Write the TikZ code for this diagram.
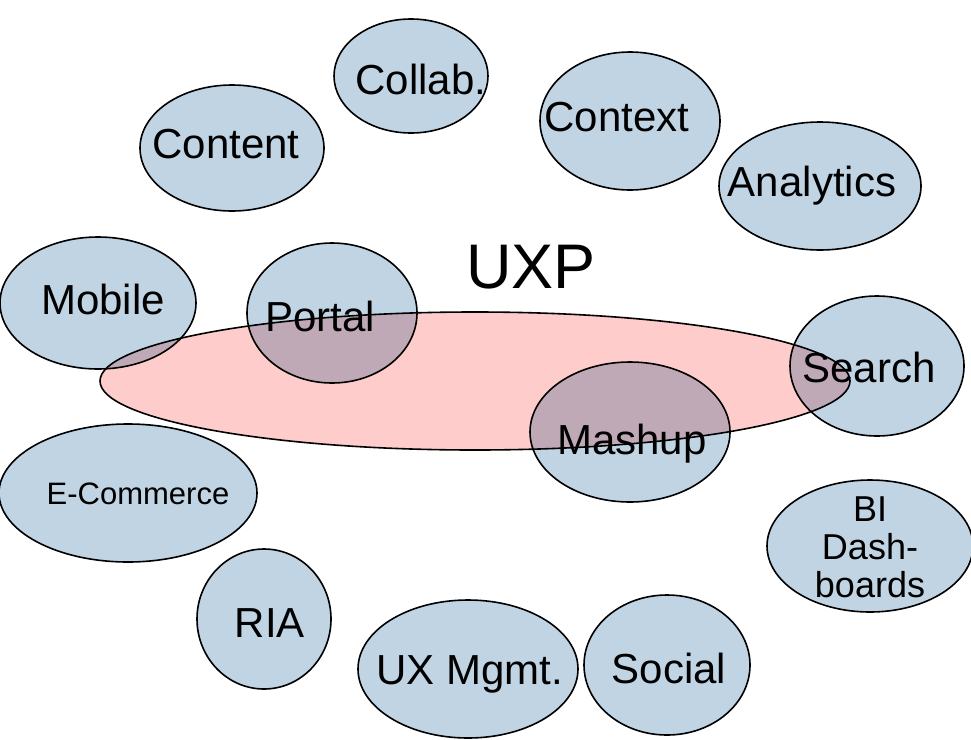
\documentclass[tikz,border=0pt]{standalone}
\usepackage{fontspec}
\setmainfont{Liberation Sans}
\definecolor{bubbleblue}{RGB}{192,212,228}
\definecolor{uxppink}{RGB}{255,204,204}
\begin{document}
\begin{tikzpicture}[x=1pt, y=-1pt,
  bubble/.style={draw, line width=1.6pt, fill=bubbleblue},
  every node/.style={inner sep=0pt, align=center,
    font=\fontsize{42}{40}\selectfont}]
  \useasboundingbox (0,0) rectangle (971,739);
  % bubbles round the platform
  \draw[bubble] (411,76) ellipse (77 and 57);
  \draw[bubble] (232,148) ellipse (92 and 63);
  \draw[bubble] (630,121) ellipse (90 and 69);
  \draw[bubble] (820,186) ellipse (101 and 64);
  \draw[bubble] (98,303) ellipse (98 and 66);
  \draw[bubble] (332,313) ellipse (85 and 70);
  \draw[bubble] (877,366) ellipse (87 and 70);
  \draw[bubble] (630,432) ellipse (100 and 70);
  \draw[bubble] (128,493) ellipse (129 and 69);
  \draw[bubble] (870,546) ellipse (103 and 66);
  \draw[bubble] (264,619) ellipse (67 and 70);
  \draw[bubble] (468,669) ellipse (110 and 69);
  \draw[bubble] (667,665) ellipse (83 and 70);
  % the platform itself
  \begin{scope}[blend mode=multiply]
    \draw[line width=1.6pt, fill=uxppink] (475,381) ellipse (375 and 69);
  \end{scope}
  \node (collab) at (421,79) {Collab.};
  \node (content) at (226,144) {Content};
  \node (context) at (617,117) {Context};
  \node (analytics) at (812,186) {Analytics};
  \node (mobile) at (103,299) {Mobile};
  \node (portal) at (320,316) {Portal};
  \node[font=\fontsize{63}{63}\selectfont] (uxp) at (531,267) {UXP};
  \node (search) at (869,367) {Search};
  \node (mashup) at (632,444) {Mashup};
  \node[font=\fontsize{31}{31}\selectfont] (ecommerce) at (138,494) {E-Commerce};
  \node[font=\fontsize{36}{38}\selectfont] (bi) at (870,547) {BI\\Dash-\\boards};
  \node (ria) at (270,623) {RIA};
  \node (uxmgmt) at (470,674) {UX Mgmt.};
  \node (social) at (669,668) {Social};
\end{tikzpicture}
\end{document}
